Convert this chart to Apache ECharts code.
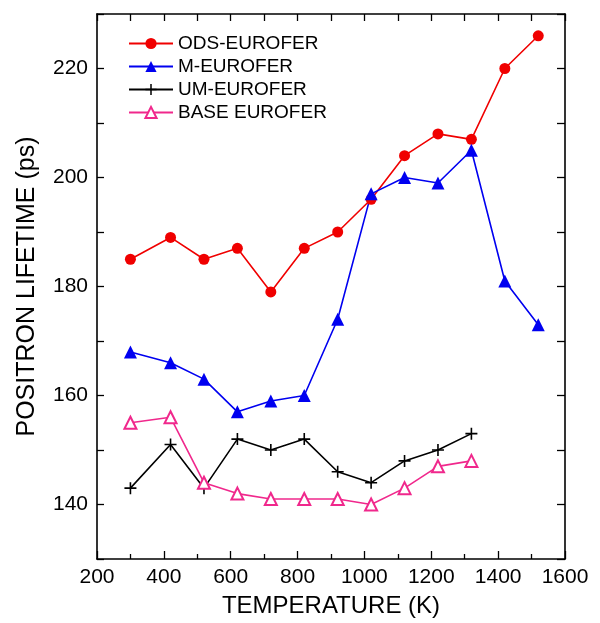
<!DOCTYPE html>
<html>
<head>
<meta charset="utf-8">
<script src="https://cdn.jsdelivr.net/npm/echarts@6/dist/echarts.min.js"></script>
<style>
html,body{margin:0;padding:0;background:#fff;}
#chart{width:600px;height:623px;}
</style>
</head>
<body>
<div id="chart"></div>
<script>
// ---- data ----
const temperatures = [300, 420, 520, 620, 720, 820, 920, 1020, 1120, 1220, 1320, 1420, 1520];
const odsEurofer  = [185, 189, 185, 187, 179, 187, 190, 196, 204, 208, 207, 220, 226];
const mEurofer    = [168, 166, 163, 157, 159, 160, 174, 197, 200, 199, 205, 181, 173];
const umEurofer   = [143, 151, 143, 152, 150, 152, 146, 144, 148, 150, 153];
const baseEurofer = [155, 156, 144, 142, 141, 141, 141, 140, 143, 147, 148];
const seriesNames = ['ODS-EUROFER', 'M-EUROFER', 'UM-EUROFER', 'BASE EUROFER'];
const xTickLabels = [200, 400, 600, 800, 1000, 1200, 1400, 1600];
const yTickLabels = [140, 160, 180, 200, 220];

function pairs(vals) { return vals.map((v, i) => [temperatures[i], v]); }

const FONT = '"Liberation Sans", Arial, sans-serif';
const plusPath = 'path://M5.2,0 H6.8 V5.2 H12 V6.8 H6.8 V12 H5.2 V6.8 H0 V5.2 H5.2 Z';

const chart = echarts.init(document.getElementById('chart'), null, {renderer: 'canvas'});

const axisLine = {show: true, lineStyle: {color: '#000', width: 1.6}};
const tickStyle = {color: '#000', width: 1.3};

chart.setOption({
  animation: false,
  backgroundColor: '#fff',
  grid: {left: 97, right: 35, top: 14, bottom: 61, containLabel: false},
  legend: {
    orient: 'vertical',
    left: 123, top: 29,
    itemWidth: 44, itemHeight: 14, itemGap: 4,
    textStyle: {fontFamily: FONT, fontSize: 19, lineHeight: 19, color: '#000'},
    data: seriesNames
  },
  xAxis: [{
    type: 'value', position: 'bottom', min: 200, max: 1600, interval: 200,
    axisLine: axisLine,
    axisTick: {show: true, inside: true, length: 8, lineStyle: tickStyle},
    minorTick: {show: true, splitNumber: 2, length: 5, lineStyle: tickStyle},
    splitLine: {show: false},
    axisLabel: {
      fontFamily: FONT, fontSize: 21, color: '#000', margin: 8,
      formatter: v => xTickLabels.indexOf(v) >= 0 ? String(v) : ''
    },
    name: 'TEMPERATURE (K)', nameLocation: 'middle', nameGap: 35,
    nameTextStyle: {fontFamily: FONT, fontSize: 24, color: '#000'}
  }, {
    type: 'value', position: 'top', min: 200, max: 1600, interval: 100,
    axisLine: axisLine,
    axisTick: {show: true, inside: true, length: 7, lineStyle: tickStyle},
    axisLabel: {show: false}, splitLine: {show: false}
  }],
  yAxis: [{
    type: 'value', position: 'left', min: 130, max: 230, interval: 10,
    axisLine: axisLine,
    axisTick: {show: true, inside: true, length: 7, lineStyle: tickStyle},
    splitLine: {show: false},
    axisLabel: {
      fontFamily: FONT, fontSize: 21, color: '#000', margin: 9,
      formatter: v => yTickLabels.indexOf(v) >= 0 ? String(v) : ''
    },
    name: 'POSITRON LIFETIME (ps)', nameLocation: 'middle', nameGap: 57,
    nameTextStyle: {fontFamily: FONT, fontSize: 25, color: '#000'}
  }, {
    type: 'value', position: 'right', min: 130, max: 230, interval: 10,
    axisLine: axisLine,
    axisTick: {show: true, inside: true, length: 8, lineStyle: tickStyle},
    axisLabel: {show: false}, splitLine: {show: false}
  }],
  series: [{
    name: seriesNames[0], type: 'line', data: pairs(odsEurofer),
    symbol: 'circle', symbolSize: 11,
    lineStyle: {color: '#f00000', width: 1.6},
    itemStyle: {color: '#f00000'}
  }, {
    name: seriesNames[1], type: 'line', data: pairs(mEurofer),
    symbol: 'triangle', symbolSize: 13,
    lineStyle: {color: '#0000f0', width: 1.6},
    itemStyle: {color: '#0000f0'}
  }, {
    name: seriesNames[2], type: 'line', data: pairs(umEurofer),
    symbol: plusPath, symbolSize: 12,
    lineStyle: {color: '#000', width: 1.6},
    itemStyle: {color: '#000'}
  }, {
    name: seriesNames[3], type: 'line', data: pairs(baseEurofer),
    symbol: 'emptyTriangle', symbolSize: 12,
    lineStyle: {color: '#f0288c', width: 1.6},
    itemStyle: {color: '#f0288c', borderColor: '#f0288c', borderWidth: 1.5}
  }]
});
</script>
</body>
</html>
